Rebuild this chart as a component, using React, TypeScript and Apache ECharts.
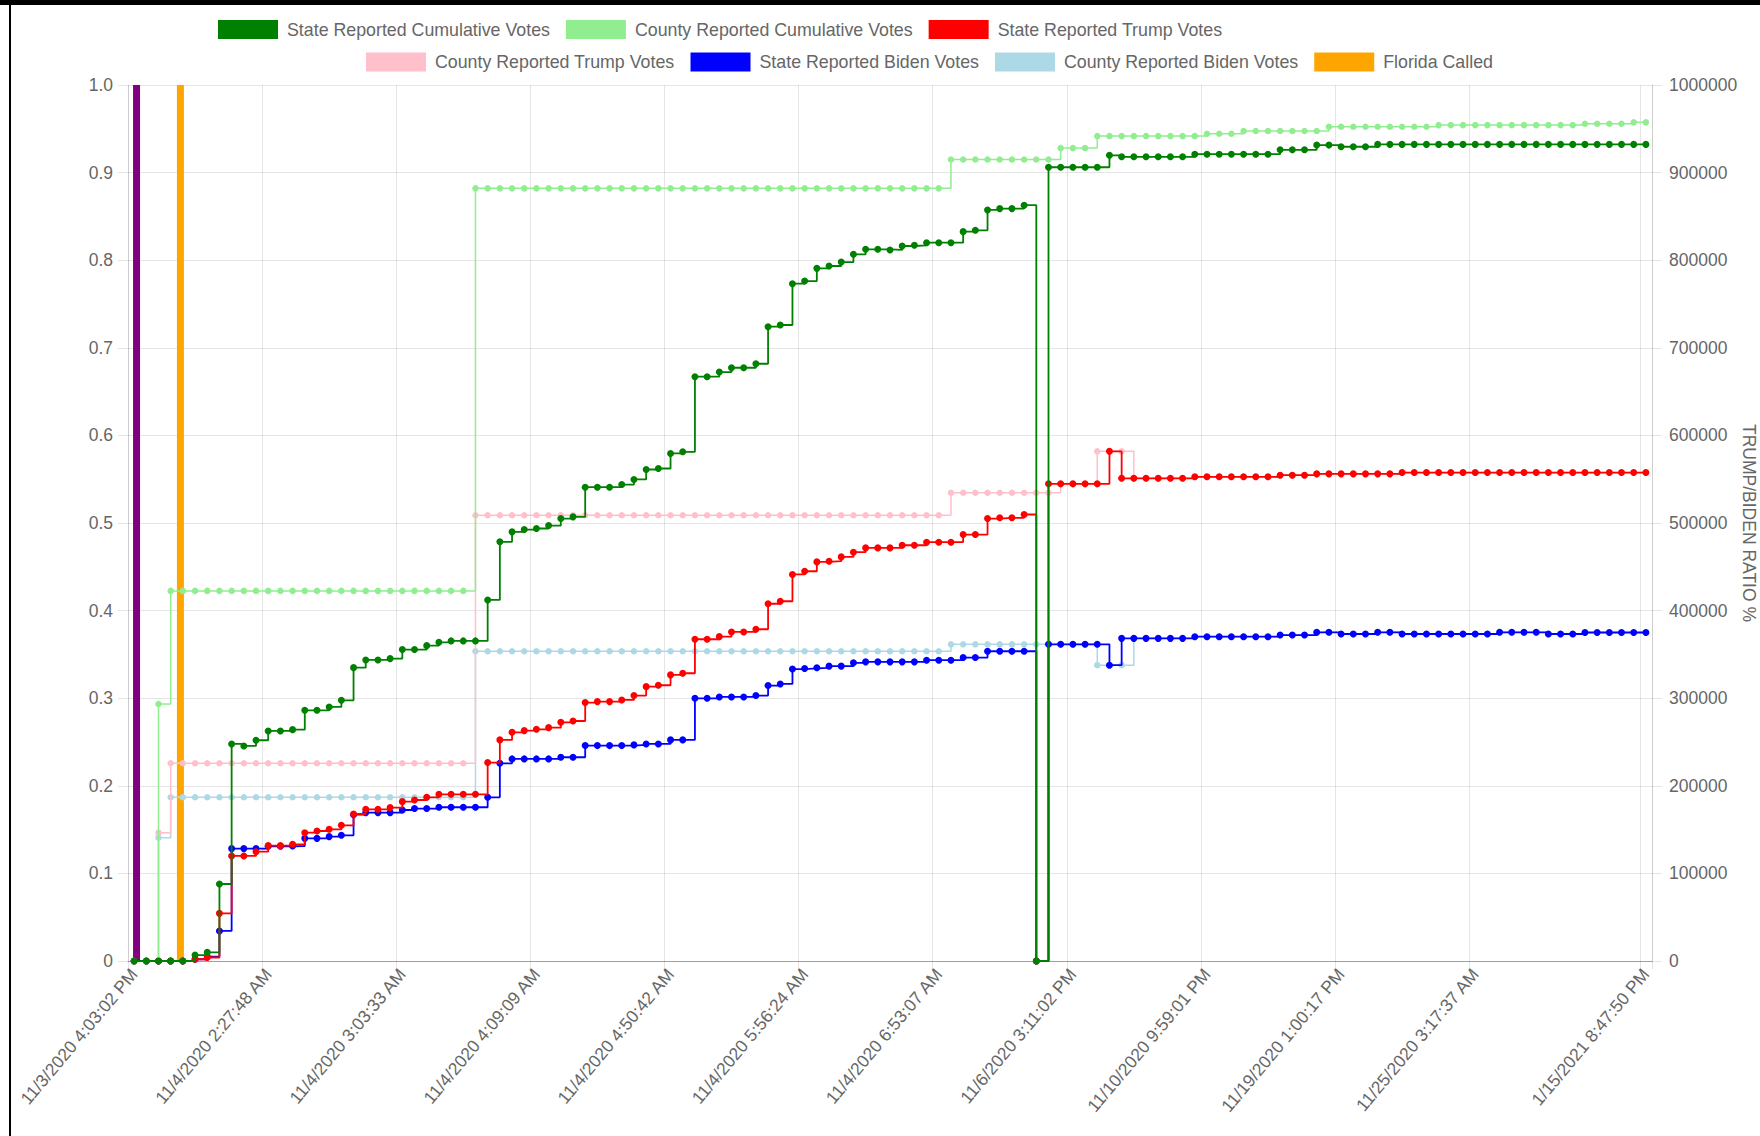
import React, { useEffect, useRef } from "react";
import * as echarts from "echarts";

// ---- tick labels (visible category labels of the x axis) ----
const tickLabels = [
  "11/3/2020 4:03:02 PM",
  "11/4/2020 2:27:48 AM",
  "11/4/2020 3:03:33 AM",
  "11/4/2020 4:09:09 AM",
  "11/4/2020 4:50:42 AM",
  "11/4/2020 5:56:24 AM",
  "11/4/2020 6:53:07 AM",
  "11/6/2020 3:11:02 PM",
  "11/10/2020 9:59:01 PM",
  "11/19/2020 1:00:17 PM",
  "11/25/2020 3:17:37 AM",
  "1/15/2021 8:47:50 PM",
];
const tickIndices = [0, 11, 22, 33, 44, 55, 66, 77, 88, 99, 110, 124];
const pointCount = 125;

// ---- series values (votes) ----
const stateCumulative = [
  0, 0, 0, 0, 0, 6800, 9900, 87900, 247800, 245500,
  252000, 262600, 262600, 264100, 286200, 286200, 290000, 297600, 334900, 343700,
  343700, 345200, 355500, 355500, 360000, 363800, 365400, 365400, 365400, 412200,
  478500, 489900, 492500, 493700, 497100, 505100, 507000, 540900, 540900, 540900,
  543900, 549700, 561100, 562200, 579400, 581300, 667000, 667000, 672300, 677200,
  677200, 681800, 724100, 726000, 773200, 776200, 790700, 793400, 797900, 806700,
  812400, 812400, 811700, 816200, 817000, 820000, 820000, 820000, 832600, 834100,
  857400, 858900, 858900, 862800, 0, 906100, 906100, 906100, 906100, 906100,
  919700, 918000, 918000, 918000, 918000, 918000, 918000, 921000, 921000, 921000,
  921000, 921000, 921000, 921000, 926000, 926000, 926000, 931400, 931400, 929500,
  929500, 929500, 932200, 932200, 932200, 932200, 932200, 932200, 932200, 932200,
  932200, 932200, 932200, 932200, 932200, 932200, 932200, 932200, 932200, 932200,
  932200, 932200, 932200, 932200, 932200,
];
const countyCumulative = [
  0, 0, 293400, 422500, 422500, 422500, 422500, 422500, 422500, 422500,
  422500, 422500, 422500, 422500, 422500, 422500, 422500, 422500, 422500, 422500,
  422500, 422500, 422500, 422500, 422500, 422500, 422500, 422500, 882000, 882000,
  882000, 882000, 882000, 882000, 882000, 882000, 882000, 882000, 882000, 882000,
  882000, 882000, 882000, 882000, 882000, 882000, 882000, 882000, 882000, 882000,
  882000, 882000, 882000, 882000, 882000, 882000, 882000, 882000, 882000, 882000,
  882000, 882000, 882000, 882000, 882000, 882000, 882000, 914900, 914900, 914900,
  914900, 914900, 914900, 914900, 914900, 914900, 928000, 928000, 928000, 941700,
  941700, 941700, 941700, 941700, 941700, 941700, 941700, 941700, 944400, 944400,
  944400, 947500, 947500, 947500, 947500, 947500, 947500, 947500, 952300, 952300,
  952300, 952300, 952300, 952300, 952300, 952300, 952300, 954200, 954200, 954200,
  954200, 954200, 954200, 954200, 954200, 954200, 954200, 954200, 954200, 955800,
  955800, 955800, 955800, 957400, 957400,
];
const stateTrump = [
  0, 0, 0, 0, 0, 2000, 4000, 54400, 119900, 119900,
  124800, 131700, 131700, 133200, 146500, 148400, 150300, 154900, 167800, 173200,
  173200, 175100, 181900, 183800, 186900, 190300, 190300, 190300, 190300, 226500,
  252400, 261100, 263000, 264500, 266400, 272500, 274000, 295000, 296100, 296100,
  298000, 303000, 313200, 314800, 326600, 328500, 367300, 367300, 370300, 375600,
  375600, 378700, 407800, 410700, 441300, 444900, 455600, 456400, 461300, 466700,
  471600, 471600, 471600, 474600, 474600, 478100, 478100, 478100, 486800, 486800,
  505100, 505900, 505900, 509700, 0, 544700, 544700, 544700, 544700, 544700,
  581800, 551000, 551000, 551000, 551000, 551000, 551000, 552700, 552700, 552700,
  552700, 552700, 552700, 552700, 554600, 554600, 554600, 556100, 556100, 556100,
  556100, 556100, 556100, 556100, 557600, 557600, 557600, 557600, 557600, 557600,
  557600, 557600, 557600, 557600, 557600, 557600, 557600, 557600, 557600, 557600,
  557600, 557600, 557600, 557600, 557600,
];
const countyTrump = [
  0, 0, 146500, 225700, 225700, 225700, 225700, 225700, 225700, 225700,
  225700, 225700, 225700, 225700, 225700, 225700, 225700, 225700, 225700, 225700,
  225700, 225700, 225700, 225700, 225700, 225700, 225700, 225700, 508800, 508800,
  508800, 508800, 508800, 508800, 508800, 508800, 508800, 508800, 508800, 508800,
  508800, 508800, 508800, 508800, 508800, 508800, 508800, 508800, 508800, 508800,
  508800, 508800, 508800, 508800, 508800, 508800, 508800, 508800, 508800, 508800,
  508800, 508800, 508800, 508800, 508800, 508800, 508800, 534600, 534600, 534600,
  534600, 534600, 534600, 534600, 534600, 534600, 544700, 544700, 544700, 581800,
  581800, 581800, 551000, 551000, 551000, 551000, 551000, 552700, 552700, 552700,
  552700, 552700, 552700, 552700, 554600, 554600, 554600, 556100, 556100, 556100,
  556100, 556100, 556100, 556100, 557600, 557600, 557600, 557600, 557600, 557600,
  557600, 557600, 557600, 557600, 557600, 557600, 557600, 557600, 557600, 557600,
  557600, 557600, 557600, 557600, 557600,
];
const stateBiden = [
  0, 0, 0, 0, 0, 2000, 5000, 34300, 128300, 128300,
  128300, 131000, 131000, 131300, 140000, 140000, 142000, 143500, 167000, 169400,
  169400, 169400, 172400, 174000, 174000, 175500, 175500, 175500, 175500, 186900,
  225700, 230700, 230700, 230700, 230700, 232600, 232600, 245900, 245900, 245900,
  245900, 246700, 247800, 247800, 252400, 252400, 299900, 299900, 301400, 301400,
  301400, 303000, 314400, 316300, 333300, 334000, 334700, 336600, 336600, 340400,
  341500, 341500, 341500, 341500, 341500, 343400, 343400, 343400, 346400, 346400,
  353600, 353600, 353600, 353600, 0, 361500, 361500, 361500, 361500, 361500,
  337700, 368300, 368300, 368300, 368300, 368300, 368300, 370200, 370200, 370200,
  370200, 370200, 370200, 370200, 372100, 372100, 372100, 375200, 375200, 373300,
  373300, 373300, 375200, 375200, 373300, 373300, 373300, 373300, 373300, 373300,
  373300, 373300, 375200, 375200, 375200, 375200, 373300, 373300, 373300, 375000,
  375000, 375000, 375000, 375000, 375000,
];
const countyBiden = [
  0, 0, 140800, 186900, 186900, 186900, 186900, 186900, 186900, 186900,
  186900, 186900, 186900, 186900, 186900, 186900, 186900, 186900, 186900, 186900,
  186900, 186900, 186900, 186900, 186900, 186900, 186900, 186900, 353600, 353600,
  353600, 353600, 353600, 353600, 353600, 353600, 353600, 353600, 353600, 353600,
  353600, 353600, 353600, 353600, 353600, 353600, 353600, 353600, 353600, 353600,
  353600, 353600, 353600, 353600, 353600, 353600, 353600, 353600, 353600, 353600,
  353600, 353600, 353600, 353600, 353600, 353600, 353600, 361500, 361500, 361500,
  361500, 361500, 361500, 361500, 361500, 361500, 361500, 361500, 361500, 337700,
  337700, 337700, 368300, 368300, 368300, 368300, 368300, 370200, 370200, 370200,
  370200, 370200, 370200, 370200, 372100, 372100, 372100, 375200, 375200, 373300,
  373300, 373300, 375200, 375200, 373300, 373300, 373300, 373300, 373300, 373300,
  373300, 373300, 375200, 375200, 375200, 375200, 373300, 373300, 373300, 375000,
  375000, 375000, 375000, 375000, 375000,
];

// vertical markers (ratio axis, full height)
const pollsClosedIndex = 0;
const floridaCalledIndex = 4;
const markerValue = 1;

const legendRow1 = ["State Reported Cumulative Votes", "County Reported Cumulative Votes", "State Reported Trump Votes"];
const legendRow2 = ["County Reported Trump Votes", "State Reported Biden Votes", "County Reported Biden Votes", "Florida Called"];

const FONT = "'Liberation Sans', Arial, Helvetica, sans-serif";
const GRID = "rgba(0,0,0,0.1)";
const TXT = "#666";

export default function App() {
  const ref = useRef<HTMLDivElement>(null);

  useEffect(() => {
    if (!ref.current) return;
    const chart = echarts.init(ref.current, undefined, { renderer: "svg" });

    const labelMap = new Map<number, string>();
    tickIndices.forEach((idx, k) => labelMap.set(idx, tickLabels[k]));
    const categories = Array.from({ length: pointCount }, (_, i) => labelMap.get(i) ?? `#${i}`);
    const labelSet = new Set(tickIndices);

    const floridaData = categories.map((_, i) => (i === floridaCalledIndex ? markerValue : null));
    const pollsData = categories.map((_, i) => (i === pollsClosedIndex ? markerValue : null));

    const lineSeries = (name: string, data: number[], color: string, width: number, size: number, z: number) => ({
      name,
      type: "line",
      yAxisIndex: 1,
      data,
      step: "end",
      symbol: "circle",
      symbolSize: size,
      showAllSymbol: true,
      itemStyle: { color, borderWidth: 0 },
      lineStyle: { color, width },
      emphasis: { disabled: true },
      z,
    });

    const legendCommon = {
      orient: "horizontal",
      padding: 0,
      itemWidth: 60,
      itemHeight: 19,
      itemGap: 16,
      icon: "rect",
      itemStyle: { borderWidth: 0 },
      textStyle: { color: TXT, fontSize: 17.8, fontFamily: FONT, padding: [0, 0, 0, 4] },
      selectedMode: false,
    };

    chart.setOption({
      animation: false,
      backgroundColor: "#ffffff",
      textStyle: { fontFamily: FONT },
      grid: { left: 128, right: 108, top: 85, bottom: 175, containLabel: false, outerBoundsMode: "none" },
      legend: [
        { ...legendCommon, data: legendRow1, left: 218, top: 20 },
        { ...legendCommon, data: legendRow2, left: 366, top: 52.5 },
      ],
      graphic: [
        { type: "rect", shape: { x: 0, y: 0, width: 1760, height: 5 }, style: { fill: "#000" }, silent: true },
        { type: "rect", shape: { x: 9, y: 0, width: 2, height: 1136 }, style: { fill: "#000" }, silent: true },
        {
          type: "text",
          x: 1749,
          y: 523,
          rotation: -Math.PI / 2,
          style: {
            text: "TRUMP/BIDEN RATIO %",
            fill: TXT,
            fontSize: 17.5,
            fontFamily: FONT,
            align: "center",
            verticalAlign: "middle",
          },
          silent: true,
        },
      ],
      xAxis: {
        type: "category",
        data: categories,
        boundaryGap: true,
        axisLine: { show: true, lineStyle: { color: "rgba(0,0,0,0.3)", width: 1 } },
        axisTick: { show: true, length: 8, lineStyle: { color: GRID } },
        axisLabel: {
          interval: (i: number) => labelSet.has(i),
          rotate: 50,
          color: TXT,
          fontSize: 17.5,
          fontFamily: FONT,
          margin: 10,
        },
        splitLine: { show: true, lineStyle: { color: GRID, width: 1 } },
      },
      yAxis: [
        {
          type: "value",
          position: "left",
          min: 0,
          max: 1,
          interval: 0.1,
          axisLine: { show: true, lineStyle: { color: GRID } },
          axisTick: { show: true, length: 10, lineStyle: { color: GRID } },
          axisLabel: {
            color: TXT,
            fontSize: 17.5,
            fontFamily: FONT,
            margin: 15,
            formatter: (v: number) => (v === 0 ? "0" : v.toFixed(1)),
          },
          splitLine: { show: true, lineStyle: { color: GRID, width: 1 } },
        },
        {
          type: "value",
          position: "right",
          min: 0,
          max: 1000000,
          interval: 100000,
          axisLine: { show: true, lineStyle: { color: GRID } },
          axisTick: { show: true, length: 10, lineStyle: { color: GRID } },
          axisLabel: {
            color: TXT,
            fontSize: 17.5,
            fontFamily: FONT,
            margin: 17,
            formatter: (v: number) => String(v),
          },
          splitLine: { show: false },
        },
      ],
      series: [
        {
          name: "Florida Called",
          type: "bar",
          yAxisIndex: 0,
          data: floridaData,
          barWidth: 7,
          barGap: "-30%",
          itemStyle: { color: "#FFA500" },
          z: 1,
        },
        {
          name: "Polls Closed",
          type: "bar",
          yAxisIndex: 0,
          data: pollsData,
          barWidth: 7,
          barGap: "-30%",
          itemStyle: { color: "#800080" },
          z: 1,
        },
        lineSeries("County Reported Biden Votes", countyBiden, "#ADD8E6", 1.5, 6.5, 2),
        lineSeries("State Reported Biden Votes", stateBiden, "#0000FF", 1.8, 7, 3),
        lineSeries("County Reported Trump Votes", countyTrump, "#FFC0CB", 1.5, 6.5, 4),
        lineSeries("State Reported Trump Votes", stateTrump, "#FF0000", 1.8, 7, 5),
        lineSeries("County Reported Cumulative Votes", countyCumulative, "#90EE90", 1.5, 6.5, 6),
        lineSeries("State Reported Cumulative Votes", stateCumulative, "#008000", 1.8, 7, 7),
      ],
    });

    return () => chart.dispose();
  }, []);

  return (
    <div
      ref={ref}
      style={{ position: "fixed", left: 0, top: 0, width: 1760, height: 1136, background: "#fff" }}
    />
  );
}
